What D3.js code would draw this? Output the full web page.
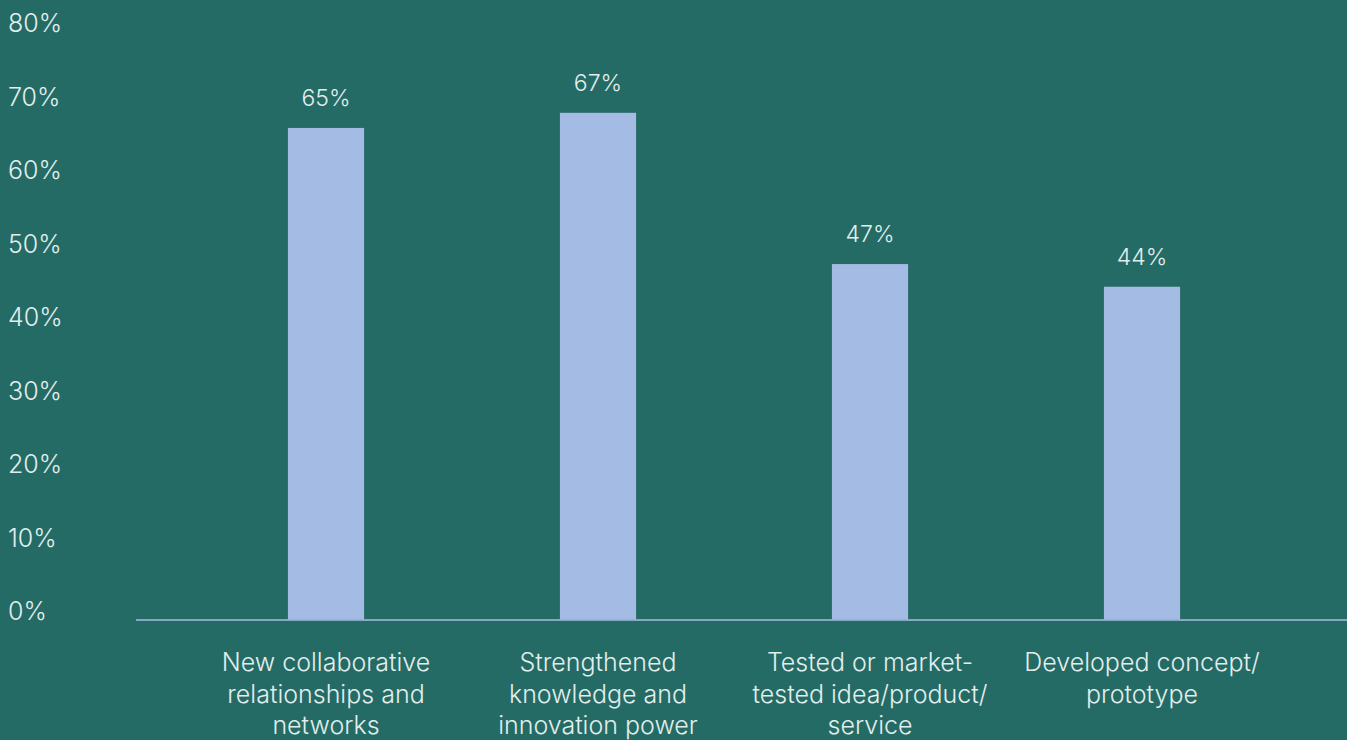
<!DOCTYPE html>
<html>
<head>
<meta charset="utf-8">
<script src="https://cdn.jsdelivr.net/npm/d3@7"></script>
<style>
  html, body { margin: 0; padding: 0; background: #246B66; }
  svg { display: block; }
  text { font-family: Inter, "Helvetica Neue", Arial, sans-serif; font-weight: 300; fill: #E2EEEC; }
</style>
</head>
<body>
<svg id="chart" width="1347" height="740"></svg>
<script>
// Share of respondents reporting each outcome
const categories = [
  ["New collaborative", "relationships and", "networks"],
  ["Strengthened", "knowledge and", "innovation power"],
  ["Tested or market-", "tested idea/product/", "service"],
  ["Developed concept/", "prototype"]
];
const values = [65, 67, 47, 44];
const yTicks = [0, 10, 20, 30, 40, 50, 60, 70, 80];

const W = 1347, H = 740;
const svg = d3.select("#chart");

const x = d3.scaleBand()
  .domain(d3.range(categories.length))
  .range([190, 1278])
  .paddingInner(0.72)
  .paddingOuter(0.36);

// Bar heights
const y = d3.scaleLinear().domain([0, 80]).range([619.5, 14.5]);
// Tick label baselines along the left edge
const yLabel = d3.scaleLinear().domain([0, 80]).range([620, 32]);

// Y tick labels
svg.append("g")
  .selectAll("text")
  .data(yTicks)
  .join("text")
  .attr("x", 8)
  .attr("y", d => yLabel(d))
  .attr("text-anchor", "start")
  .style("font-size", "25px")
  .text(d => d + "%");

// Bars
svg.append("g")
  .selectAll("rect")
  .data(values)
  .join("rect")
  .attr("x", (d, i) => x(i))
  .attr("width", x.bandwidth())
  .attr("y", d => y(d))
  .attr("height", d => y(0) - y(d))
  .attr("fill", "#A4BCE3");

// Baseline
svg.append("line")
  .attr("x1", 136).attr("x2", W)
  .attr("y1", y(0) + 0.5).attr("y2", y(0) + 0.5)
  .attr("stroke", "#A4BCE3")
  .attr("stroke-width", 1.5);

// Value labels
svg.append("g")
  .selectAll("text")
  .data(values)
  .join("text")
  .attr("x", (d, i) => x(i) + x.bandwidth() / 2)
  .attr("y", d => y(d) - 22)
  .attr("text-anchor", "middle")
  .style("font-size", "23px")
  .text(d => d + "%");

// Category labels
const cat = svg.append("g")
  .selectAll("text")
  .data(categories)
  .join("text")
  .attr("x", (d, i) => x(i) + x.bandwidth() / 2)
  .attr("y", 671)
  .attr("text-anchor", "middle")
  .style("font-size", "25px");

cat.selectAll("tspan")
  .data(d => d)
  .join("tspan")
  .attr("x", function () { return d3.select(this.parentNode).attr("x"); })
  .attr("dy", (d, i) => i === 0 ? 0 : 31.5)
  .text(d => d);
</script>
</body>
</html>
